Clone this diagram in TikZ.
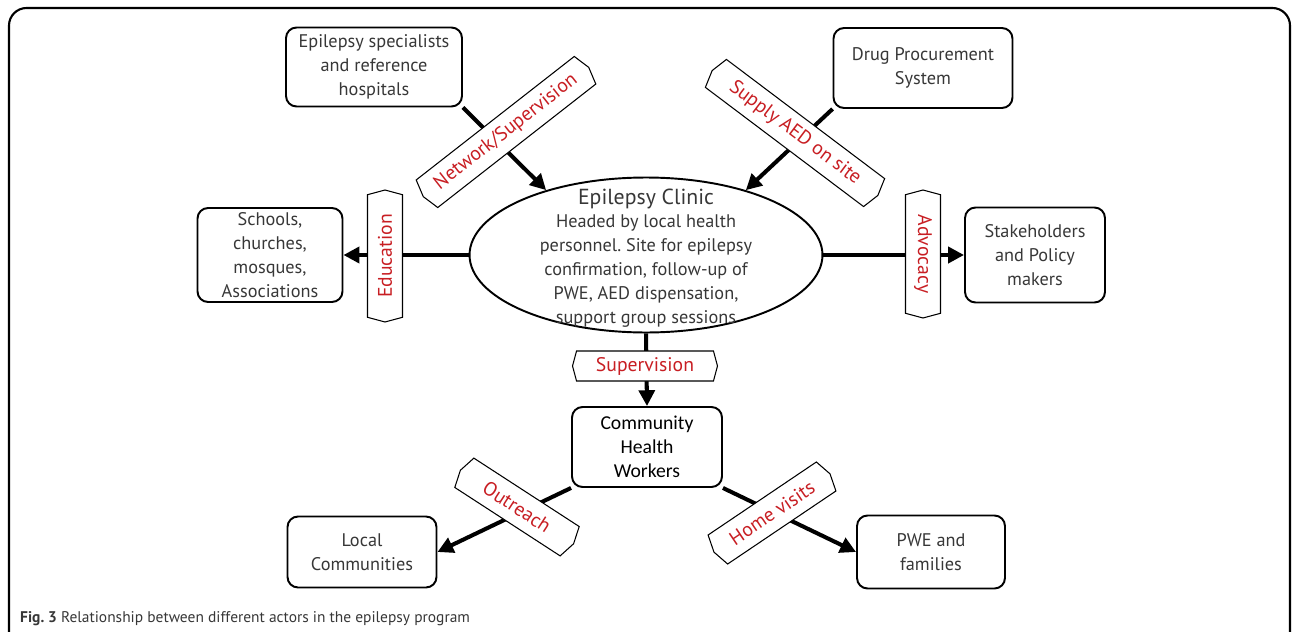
\documentclass[tikz,border=0pt]{standalone}
\usepackage{fontspec}
\setmainfont{PT Sans}
\newfontfamily\chwfont{Carlito}
\usepackage{xcolor}
\usetikzlibrary{shapes.geometric,shapes.symbols,arrows.meta,positioning}

\definecolor{tagred}{RGB}{200,30,35}
\definecolor{txtgray}{RGB}{55,55,55}
\frenchspacing

\begin{document}
\begin{tikzpicture}[
  x=0.02cm,y=-0.02cm,
  every node/.style={font=\fontsize{10.4}{13.6}\selectfont,text=txtgray},
  box/.style={rectangle,rounded corners=6pt,draw,line width=1.1pt,align=center,inner sep=2pt},
  tag/.style={signal,signal to=east and west,signal pointer angle=150,draw,fill=white,line width=0.6pt,text=tagred,font=\fontsize{11.2}{13}\selectfont,inner sep=1pt,minimum height=0.7cm},
  arrow/.style={-{Triangle[length=9pt,width=9pt]},line width=2.3pt}
]
\useasboundingbox (0,0) rectangle (1292,632);
% frame
\draw[line width=1.2pt,rounded corners=10pt] (9,640) -- (9,8) -- (1290,8) -- (1290,640);

% actors
\node[box,minimum width=3.52cm,minimum height=1.58cm] (spec) at (374,67) {Epilepsy specialists\\and reference\\hospitals};
\node[box,minimum width=3.58cm,minimum height=1.6cm] (drug) at (923,68) {Drug Procurement\\System};
\node[box,minimum width=2.9cm,minimum height=1.88cm] (school) at (270,255) {Schools,\\churches,\\mosques,\\Associations};
\node[box,minimum width=2.8cm,minimum height=1.9cm] (stake) at (1035,255) {Stakeholders\\and Policy\\makers};
\node[ellipse,draw,line width=1.1pt,minimum width=7.06cm,minimum height=3.1cm] (clinic) at (646,255) {};
\node[align=center] (clinictxt) at (646,258) {{\fontsize{12.4}{16}\selectfont Epilepsy Clinic}\\Headed by local health\\personnel. Site for epilepsy\\confirmation, follow-up of\\PWE, AED dispensation,\\support group sessions};
\node[box,minimum width=3.0cm,minimum height=1.6cm,font=\chwfont\fontsize{11.2}{13.6}\selectfont,text=black] (chw) at (647,447) {Community\\Health\\Workers};
\node[box,minimum width=2.98cm,minimum height=1.42cm] (local) at (362,552) {Local\\Communities};
\node[box,minimum width=2.96cm,minimum height=1.46cm] (pwe) at (931,552) {PWE and\\families};

% connectors
\draw[arrow] (spec.south east) -- (clinic.147);
\draw[arrow] (drug.south west) -- (clinic.33);
\draw[arrow] (clinic.west) -- (school.east);
\draw[arrow] (clinic.east) -- (stake.west);
\draw[arrow] (clinic.south) -- (chw.north);
\draw[arrow] (chw.south west) -- (local.east);
\draw[arrow] (chw.south east) -- (pwe.west);

% labels on the connectors
\node[tag,rotate=38,minimum width=4.2cm] (netTag) at (506,132) {Network/Supervision};
\node[tag,rotate=-37,minimum width=4.15cm] (supplyTag) at (795,133) {Supply AED on site};
\node[tag,rotate=90,minimum width=2.64cm] (eduTag) at (385,256) {Education};
\node[tag,rotate=-90,minimum width=2.56cm] (advTag) at (923,254) {Advocacy};
\node[tag,minimum width=2.9cm,minimum height=0.6cm] (supTag) at (645,366) {Supervision};
\node[tag,rotate=-33,minimum width=2.7cm] (outTag) at (517,507) {Outreach};
\node[tag,rotate=34,minimum width=2.8cm] (homeTag) at (772,513) {Home visits};

% caption
\node[anchor=base west,font=\fontsize{8.8}{11}\selectfont] (caption) at (14,622) {\textbf{Fig. 3} Relationship between different actors in the epilepsy program};
\end{tikzpicture}
\end{document}
